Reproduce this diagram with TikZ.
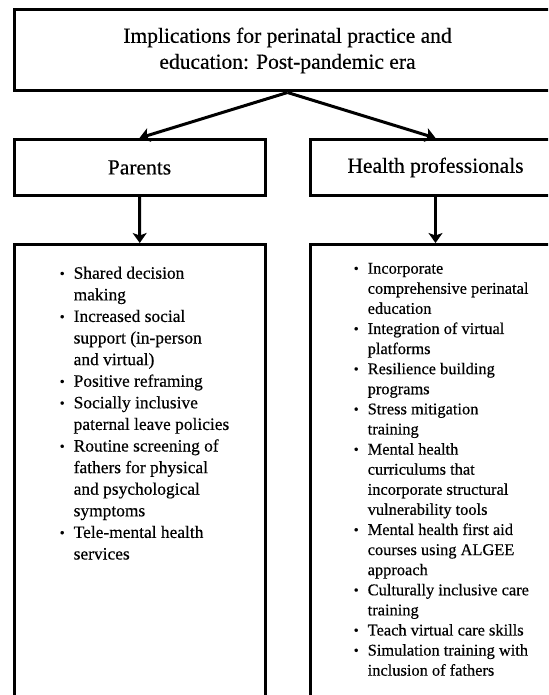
\documentclass[tikz,border=0pt]{standalone}
\usepackage{fontspec}
\setmainfont{Liberation Serif}[FakeBold=0.4]
\usetikzlibrary{arrows.meta}

% bullet marker and hanging indent for the item lists
\newcommand\itemdot{\makebox[23pt][c]{\raisebox{0.6pt}{\fontsize{14}{14}\selectfont •}}}
\newcommand\itemgap{\hspace*{23pt}}

\begin{document}
\begin{tikzpicture}[x=1pt,y=-1pt,
  frame/.style={draw, line width=3pt, inner sep=0pt},
  link/.style={line width=3pt, -{Stealth[length=10pt,width=14pt,inset=2.5pt]}},
  head/.style={font=\fontsize{21.5}{26}\selectfont, align=center},
  itemlist/.style={anchor=north west, inner sep=0pt, align=left}]
\useasboundingbox (0,0) rectangle (548,695);
\clip (0,0) rectangle (548,695);

% title and the two branches
\node[frame, minimum width=547, minimum height=81, head] (top) at (287.5,50.5)
  {Implications for perinatal practice and\\education: Post-pandemic era};
\node[frame, minimum width=251, minimum height=56, head] (par) at (139.5,167.5) {Parents};
\node[frame, minimum width=251, minimum height=56, head] (hp) at (435.5,167.5) {Health professionals};

% tall boxes holding the lists
\node[frame, minimum width=251.5, minimum height=480, anchor=north] (lbox) at (139.75,243) {};
\node[frame, minimum width=251, minimum height=480, anchor=north] (rbox) at (435.5,243) {};

% connectors
\draw[link] (top.south) -- (par.north);
\draw[link] (top.south) -- (hp.north);
\draw[link] (par.south) -- (lbox.north);
\draw[link] (hp.south) -- (rbox.north);

% list for parents
\node[itemlist, font=\fontsize{17.4}{21.6}\selectfont] (plist) at (50.5,263.4)
  {\strut\itemdot Shared decision\\
   \itemgap making\\
   \itemdot Increased social\\
   \itemgap support (in-person\\
   \itemgap and virtual)\\
   \itemdot Positive reframing\\
   \itemdot Socially inclusive\\
   \itemgap paternal leave policies\\
   \itemdot Routine screening of\\
   \itemgap fathers for physical\\
   \itemgap and psychological\\
   \itemgap symptoms\\
   \itemdot Tele-mental health\\
   \itemgap services};

% list for health professionals
\node[itemlist, font=\fontsize{16.4}{20.1}\selectfont] (hlist) at (344.5,259.4)
  {\strut\itemdot Incorporate\\
   \itemgap comprehensive perinatal\\
   \itemgap education\\
   \itemdot Integration of virtual\\
   \itemgap platforms\\
   \itemdot Resilience building\\
   \itemgap programs\\
   \itemdot Stress mitigation\\
   \itemgap training\\
   \itemdot Mental health\\
   \itemgap curriculums that\\
   \itemgap incorporate structural\\
   \itemgap vulnerability tools\\
   \itemdot Mental health first aid\\
   \itemgap courses using ALGEE\\
   \itemgap approach\\
   \itemdot Culturally inclusive care\\
   \itemgap training\\
   \itemdot Teach virtual care skills\\
   \itemdot Simulation training with\\
   \itemgap inclusion of fathers};
\end{tikzpicture}
\end{document}
